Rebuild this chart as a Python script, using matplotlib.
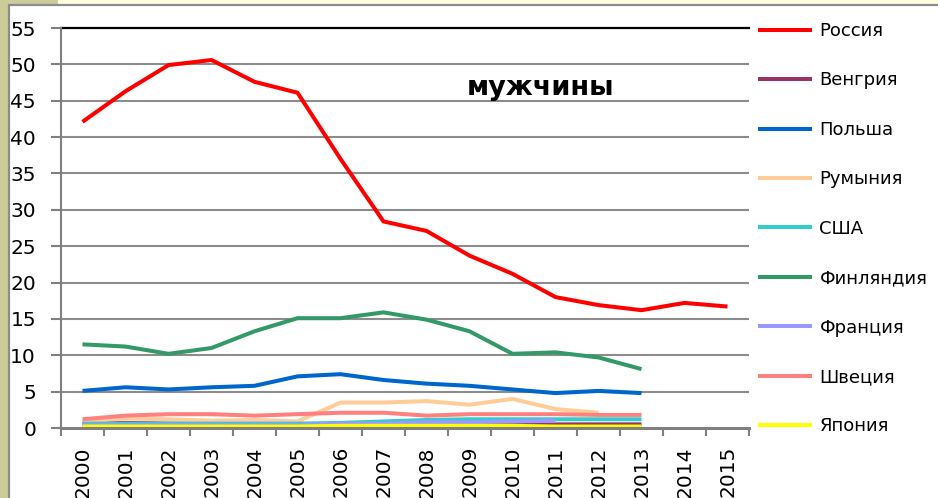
import numpy as np
import matplotlib
matplotlib.use("Agg")
import matplotlib.pyplot as plt
from matplotlib.patches import Rectangle

nan = np.nan

# Data
years = [str(y) for y in range(2000, 2016)]
russia = [42.1, 46.3, 49.9, 50.6, 47.6, 46.1, 37.0, 28.4, 27.1, 23.7, 21.2, 18.0, 16.9, 16.2, 17.2, 16.7]
hungary = [0.6, 0.7, 0.6, 0.6, 0.6, 0.5, 0.5, 0.5, 0.5, 0.5, 0.5, 0.5, 0.5, 0.5, nan, nan]
poland = [5.1, 5.6, 5.3, 5.6, 5.8, 7.1, 7.4, 6.6, 6.1, 5.8, 5.3, 4.8, 5.1, 4.8, nan, nan]
romania = [0.9, 1.3, 1.2, 1.0, 1.1, 0.9, 3.5, 3.5, 3.7, 3.2, 4.0, 2.6, 2.1, nan, nan, nan]
usa = [0.6, 0.6, 0.6, 0.6, 0.6, 0.6, 0.7, 0.9, 1.1, 1.2, 1.2, 1.2, 1.2, 1.2, nan, nan]
finland = [11.5, 11.2, 10.2, 11.0, 13.3, 15.1, 15.1, 15.9, 14.9, 13.3, 10.2, 10.4, 9.7, 8.1, nan, nan]
france = [0.4, 0.4, 0.4, 0.4, 0.4, 0.4, 0.6, 0.6, 0.8, 0.8, 0.9, 1.0, nan, nan, nan, nan]
sweden = [1.2, 1.7, 1.9, 1.9, 1.7, 1.9, 2.1, 2.1, 1.7, 1.9, 1.9, 1.9, 1.8, 1.8, nan, nan]
japan = [0.2, 0.2, 0.2, 0.2, 0.2, 0.2, 0.3, 0.3, 0.3, 0.3, 0.3, 0.2, 0.2, 0.2, nan, nan]

series = [
    ("Россия", russia, "#ff0000"),
    ("Венгрия", hungary, "#993366"),
    ("Польша", poland, "#0066cc"),
    ("Румыния", romania, "#ffcc99"),
    ("США", usa, "#33cccc"),
    ("Финляндия", finland, "#339966"),
    ("Франция", france, "#9999ff"),
    ("Швеция", sweden, "#ff8080"),
    ("Япония", japan, "#ffff00"),
]

W, H = 938, 498
fig = plt.figure(figsize=(W / 100, H / 100), dpi=100)
fig.patch.set_facecolor("white")

# background frame
def fr(x0, y0, x1, y1):
    return (x0 / W, 1 - y1 / H, (x1 - x0) / W, (y1 - y0) / H)

def band(x0, y0, x1, y1, **kw):
    x, y, w, h = fr(x0, y0, x1, y1)
    fig.patches.append(Rectangle((x, y), w, h, transform=fig.transFigure, zorder=-5, **kw))

band(0, 0, 9, 498, color="#cccc99")
band(0, 0, 58, 6, color="#cccc99")
band(58, 0, 938, 6, color="#fffde1")
band(8.5, 5.5, 940, 500, facecolor="white", edgecolor="#8c8c8c", lw=1.6)

ax = fig.add_axes([61 / W, 70 / H, 688 / W, 400 / H])
ax.set_facecolor("none")

xs = np.arange(len(years))
for name, vals, col in series:
    ax.plot(xs, vals, color=col, lw=2.9, label=name, solid_capstyle="butt")

ax.set_xlim(-0.5, len(years) - 0.5)
ax.set_ylim(0, 55)
ax.set_yticks(range(0, 56, 5))
ax.set_xticks(xs)
ax.set_xticklabels(years, rotation=90, fontsize=14.5)
ax.set_xticks(np.arange(-0.5, len(years), 1), minor=True)
ax.tick_params(axis="x", which="major", length=0, pad=13)
ax.tick_params(axis="x", which="minor", length=6, width=1.5, color="#808080", direction="out")
ax.tick_params(axis="y", length=7, width=1.5, color="#808080", labelsize=14.5, pad=11)

for v in range(5, 55, 5):
    ax.axhline(v, color="#8c8c8c", lw=1.5, zorder=0)
ax.axhline(55, color="black", lw=1.6, zorder=0, clip_on=False)

for s in ["top", "right"]:
    ax.spines[s].set_visible(False)
ax.spines["left"].set_color("#808080")
ax.spines["left"].set_linewidth(1.5)
ax.spines["bottom"].set_color("#808080")
ax.spines["bottom"].set_linewidth(2.2)

fig.text(541 / W, 1 - 88 / H, "мужчины", fontsize=19.5, fontweight="bold",
         ha="center", va="center")

fig.legend(loc="upper left", bbox_to_anchor=(758 / W, 1 - 22 / H), frameon=False,
           fontsize=13, handlelength=3.0, handletextpad=0.4, labelspacing=1.74,
           borderpad=0, borderaxespad=0)

fig.savefig("out.png", dpi=100)
